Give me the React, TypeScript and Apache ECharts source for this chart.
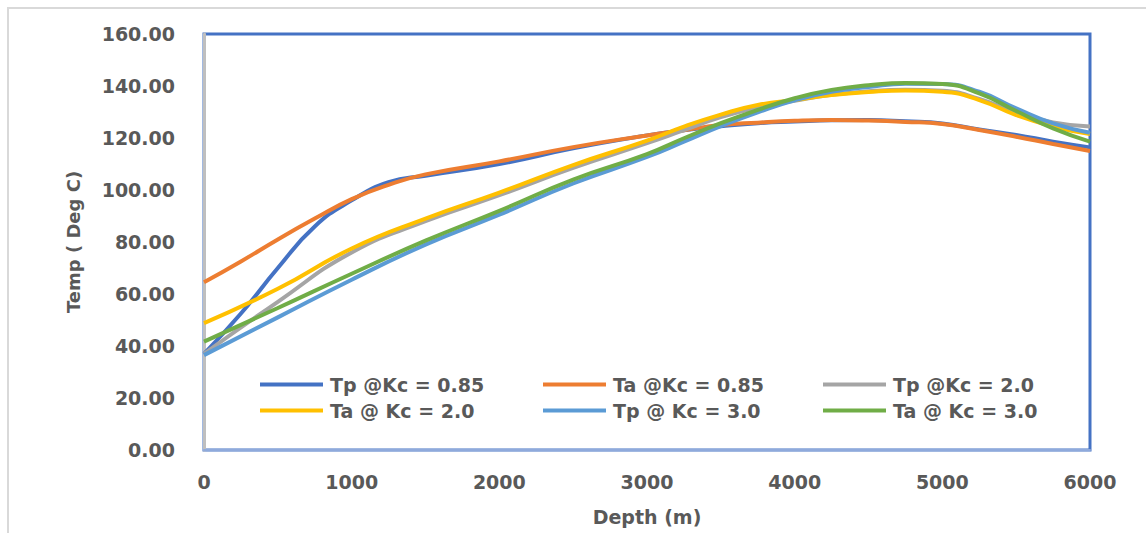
import React, { useEffect, useRef } from "react";
import * as echarts from "echarts";

const seriesNames = [
  "Tp @Kc = 0.85",
  "Ta @Kc = 0.85",
  "Tp @Kc = 2.0",
  "Ta @ Kc = 2.0",
  "Tp @ Kc = 3.0",
  "Ta @ Kc = 3.0",
];
const seriesColors = ["#4472C4", "#ED7D31", "#A5A5A5", "#FFC000", "#5B9BD5", "#70AD47"];

// depth (m)
const depthA = [0, 250, 500, 750, 1000, 1250, 1500, 2000, 2500, 3000, 3250, 3500, 3750, 4000, 4250, 4500, 4750, 5000, 5250, 5500, 5750, 6000];
const depthB = [0, 500, 1000, 1500, 2000, 2500, 3000, 3250, 3500, 3750, 4000, 4250, 4500, 4750, 5000, 5250, 5500, 5750, 6000];

// temperature (Deg C)
const tpKc085 = [37, 52.5, 70, 86, 96, 103, 105.5, 110, 116, 121, 123, 124.5, 125.7, 126.3, 126.8, 126.9, 126.4, 125.6, 123.3, 121.2, 118.6, 116.4];
const taKc085 = [64.5, 72.5, 81, 89, 96.5, 102, 106, 111, 116.5, 121, 123, 125, 125.9, 126.6, 126.9, 126.7, 126.2, 125.4, 123.1, 120.5, 117.7, 115];
const tpKc20 = [37, 57, 76, 88, 98, 108.5, 118, 123, 128, 131.7, 134.3, 136.6, 138, 138.6, 138.2, 135, 129.8, 126, 124.4];
const taKc20 = [48.8, 62, 77.5, 89, 99, 109.6, 119, 124.4, 129, 132.7, 134.6, 136.5, 137.7, 138.3, 137.8, 134.6, 128.8, 124.4, 121.5];
const tpKc30 = [36.5, 51, 65.5, 79, 90.5, 102.5, 112.7, 118.6, 124.6, 129.9, 134.5, 137.8, 139.6, 140.9, 140.8, 137.8, 131.4, 125.6, 122];
const taKc30 = [41.7, 54.6, 67.8, 80.5, 92, 104, 113.8, 119.9, 125.7, 130.8, 135.3, 138.5, 140.3, 141.2, 140.8, 137.2, 130.4, 123.7, 118.6];

const xTicks = [0, 1000, 2000, 3000, 4000, 5000, 6000];

const seriesValues = [tpKc085, taKc085, tpKc20, taKc20, tpKc30, taKc30];
const seriesDepths = [depthA, depthA, depthB, depthB, depthB, depthB];

const FONT = "DejaVu Sans";
const TXT = "#595959";

export default function App() {
  const ref = useRef<HTMLDivElement>(null);
  useEffect(() => {
    if (!ref.current) return;
    const chart = echarts.init(ref.current, undefined, { renderer: "svg" });
    const legendBase = {
      orient: "vertical",
      icon: "rect",
      padding: 0,
      itemWidth: 63,
      itemHeight: 4,
      itemGap: 7,
      textStyle: { fontFamily: FONT, fontSize: 19, fontWeight: "bold", color: TXT, padding: [0, 0, 0, 2] },
    };
    chart.setOption({
      animation: false,
      backgroundColor: "#ffffff",
      graphic: [
        {
          type: "rect",
          shape: { x: 8, y: 8, width: 1200, height: 600 },
          style: { fill: "none", stroke: "#D9D9D9", lineWidth: 2 },
          z: -1,
        },
      ],
      grid: {
        left: 204,
        top: 34,
        right: 56,
        bottom: 83,
        show: true,
        borderColor: "#4472C4",
        borderWidth: 3,
      },
      legend: [
        { ...legendBase, left: 260, top: 375, data: [seriesNames[0], seriesNames[3]] },
        { ...legendBase, left: 543, top: 375, data: [seriesNames[1], seriesNames[4]] },
        { ...legendBase, left: 823, top: 375, data: [seriesNames[2], seriesNames[5]] },
      ],
      xAxis: {
        type: "value",
        min: 0,
        max: 6000,
        interval: 1000,
        name: "Depth (m)",
        nameLocation: "middle",
        nameGap: 57,
        nameTextStyle: { fontFamily: FONT, fontSize: 19, fontWeight: "bold", color: TXT },
        axisLine: { show: true, lineStyle: { color: "#8FAADC", width: 2 } },
        axisTick: { show: false },
        splitLine: { show: false },
        axisLabel: {
          margin: 22,
          fontFamily: FONT,
          fontSize: 19,
          fontWeight: "bold",
          color: TXT,
          formatter: (v: number) => (xTicks.includes(v) ? String(v) : ""),
        },
      },
      yAxis: {
        type: "value",
        min: 0,
        max: 160,
        interval: 20,
        name: "Temp ( Deg C)",
        nameLocation: "middle",
        nameGap: 122,
        nameTextStyle: { fontFamily: FONT, fontSize: 18, fontWeight: "bold", color: TXT },
        axisLine: { show: true, lineStyle: { color: "#BFBFBF", width: 3 } },
        axisTick: { show: false },
        splitLine: { show: false },
        axisLabel: {
          margin: 29,
          fontFamily: FONT,
          fontSize: 19,
          fontWeight: "bold",
          color: TXT,
          formatter: (v: number) => v.toFixed(2),
        },
      },
      series: seriesNames.map((name, i) => ({
        name,
        type: "line",
        smooth: 0.5,
        symbol: "none",
        color: seriesColors[i],
        lineStyle: { color: seriesColors[i], width: 4 },
        data: seriesDepths[i].map((d, j) => [d, seriesValues[i][j]]),
      })),
    });
    return () => chart.dispose();
  }, []);
  return (
    <div
      ref={ref}
      style={{ position: "absolute", left: 0, top: 0, width: 1146, height: 533 }}
    />
  );
}
